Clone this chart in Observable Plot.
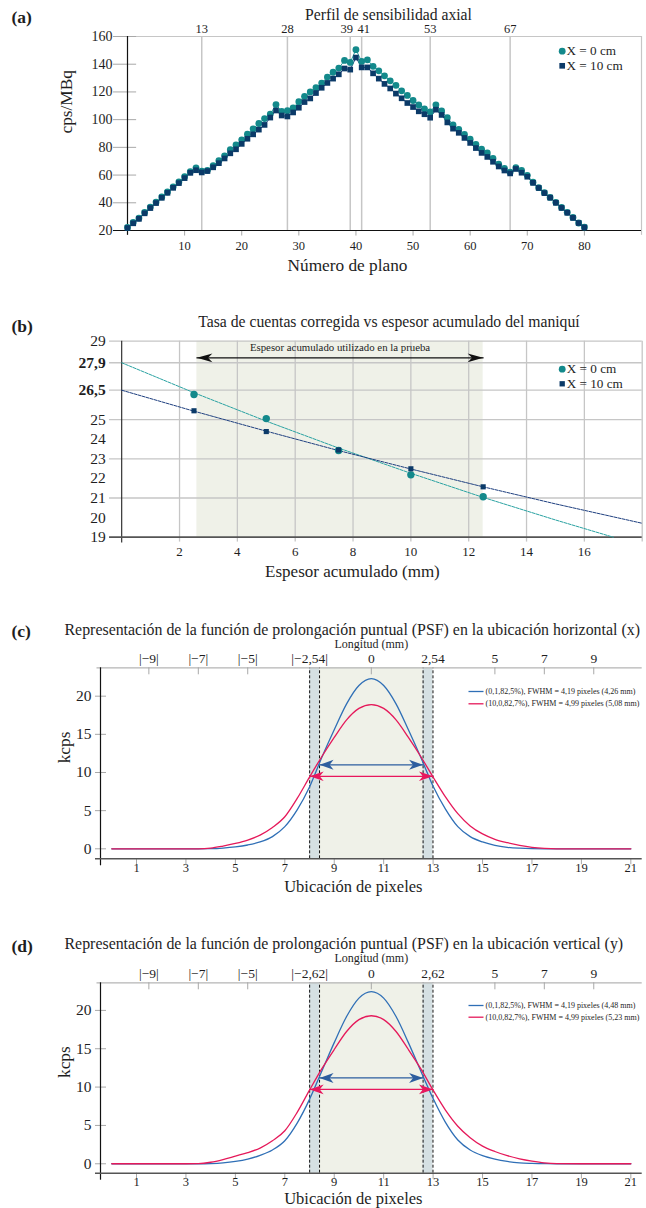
<!DOCTYPE html>
<html><head><meta charset="utf-8">
<script src="https://cdn.jsdelivr.net/npm/d3@7"></script>
<script src="https://cdn.jsdelivr.net/npm/@observablehq/plot@0.6"></script>
<style>
body{margin:0;background:#fff;}
#wrap{width:646px;}
#wrap svg{display:block;}
</style></head><body><div id="wrap"></div>
<script>
// ---------------- DATA ----------------
// (a) axial sensitivity profile
const planes = d3.range(0, 81);
const sensX0 = [22.2,25.8,29.0,33.0,36.9,40.5,44.2,47.8,51.5,55.0,58.8,62.4,65.2,62.8,63.4,66.8,70.4,73.9,78.3,81.8,
  85.4,89.5,93.4,97.2,100.8,104.0,110.9,106.0,106.5,108.5,113.0,116.8,120.0,123.1,126.4,130.7,134.2,137.2,142.7,141.3,
  150.5,142.0,143.2,138.5,135.2,131.6,128.0,124.8,120.8,117.5,113.8,110.6,107.8,105.6,110.7,106.3,101.4,96.2,93.0,89.4,
  85.9,82.2,78.7,76.0,72.0,67.8,64.8,62.1,65.4,63.3,59.8,54.9,50.9,47.3,43.9,40.3,36.6,33.1,29.4,25.4,22.5];
const sensX10 = [21.8,25.2,28.4,32.4,36.2,39.8,43.6,47.2,50.8,54.2,57.8,61.6,63.5,61.9,62.9,65.6,68.6,72.0,75.7,78.6,
  82.5,86.2,89.4,92.8,96.2,101.5,106.6,103.0,102.3,105.2,108.6,112.7,115.3,119.2,123.0,126.5,129.6,132.7,136.9,136.1,
  144.8,137.7,137.7,133.4,129.6,125.8,122.5,118.8,115.4,112.0,109.1,106.0,103.9,101.4,107.2,103.4,98.0,93.5,90.5,86.8,
  83.2,79.5,76.0,73.1,69.6,66.2,63.3,61.2,64.4,61.7,58.8,54.4,50.7,47.0,43.7,40.0,36.3,32.8,29.1,25.4,22.2];
const topTicksA = [13, 28, 39, 41, 53, 67];
const xTicksA = [10, 20, 30, 40, 50, 60, 70, 80];
const yTicksA = [20, 40, 60, 80, 100, 120, 140, 160];
const legendLabels = ["X = 0 cm", "X = 10 cm"];

// (b) corrected count rate vs accumulated thickness
const thickness = [2.5, 5, 7.5, 10, 12.5];
const rateX0 = [26.28, 25.05, 23.42, 22.18, 21.06];
const rateX10 = [25.45, 24.39, 23.45, 22.49, 21.57];
const fitThick0 = [0, 2.5, 5, 7.5, 10, 12.5, 15, 17];
const fitRate0 = [27.9, 26.37, 24.92, 23.55, 22.26, 21.03, 19.88, 19.0];
const fitThick10 = [0, 2.5, 5, 7.5, 10, 12.5, 15, 18];
const fitRate10 = [26.5, 25.43, 24.41, 23.42, 22.48, 21.57, 20.7, 19.71];
const shadeB = [2.6, 12.5];
const arrowLevelB = 28.15;
const xTicksB = [2, 4, 6, 8, 10, 12, 14, 16];
const gridXB = [2, 4, 6, 8, 10, 12, 14, 16, 18];
const gridYB = [29, 27.9, 26.5, 25, 23, 21];
const yTicksB = [29, 25, 24, 23, 22, 21, 20, 19];
const yTicksBoldB = [27.9, 26.5];

// (c),(d) PSF
const pixPos = [0,1,2,3,3.5,4,4.5,5,5.5,6,6.5,7,7.5,8,8.5,9,9.5,10,10.5,11,11.5,12,12.5,13,13.5,14,14.5,15,15.5,16,16.5,17,17.5,18,19,20,21];
const psfBlueC = [0,0,0,0,0,0.02,0.1,0.25,0.5,0.9,1.6,2.9,5.1,8.1,12.0,15.6,19.0,21.4,22.3,21.4,19.0,15.6,12.0,8.2,5.2,2.9,1.6,0.9,0.45,0.2,0.08,0.02,0,0,0,0,0];
const psfRedC = [0,0,0,0,0,0.08,0.35,0.7,1.15,1.8,2.8,4.2,6.6,9.4,12.1,14.6,16.9,18.4,18.9,18.4,16.9,14.6,12.1,9.4,6.8,4.6,3.0,1.95,1.25,0.8,0.45,0.2,0.06,0,0,0,0];
const psfBlueD = [0,0,0,0,0,0.03,0.12,0.3,0.6,1.1,1.8,3.0,5.3,8.4,12.1,15.8,19.2,21.6,22.45,21.6,19.2,15.8,12.1,8.5,5.4,3.1,1.8,1.05,0.6,0.3,0.12,0.05,0.01,0,0,0,0];
const psfRedD = [0,0,0,0,0.02,0.2,0.55,1.0,1.45,2.05,3.0,4.3,6.7,9.6,12.4,14.9,17.25,18.8,19.3,18.8,17.25,14.9,12.4,9.6,7.0,4.9,3.4,2.3,1.6,1.05,0.65,0.35,0.12,0.02,0,0,0];
const psfCenter = 10.5;
const fwhmPx = [4.19, 4.99];               // blue, red
const halfMaxC = [11.0, 9.5];
const halfMaxD = [11.2, 9.7];
const xTicksPSF = [1, 3, 5, 7, 9, 11, 13, 15, 17, 19, 21];
const yTicksPSF = [0, 5, 10, 15, 20];
const topPosPSF = [1.5, 3.5, 5.5, 8.005, 10.5, 12.995, 15.5, 17.5, 19.5];
const topLabelsC = ["|−9|", "|−7|", "|−5|", "|−2,54|", "0", "2,54", "5", "7", "9"];
const topLabelsD = ["|−9|", "|−7|", "|−5|", "|−2,62|", "0", "2,62", "5", "7", "9"];
const legendC = ["(0,1,82,5%), FWHM = 4,19 pixeles (4,26 mm)", "(10,0,82,7%), FWHM = 4,99 pixeles (5,08 mm)"];
const legendD = ["(0,1,82,5%), FWHM = 4,19 pixeles (4,48 mm)", "(10,0,82,7%), FWHM = 4,99 pixeles (5,23 mm)"];

// ---------------- STYLE ----------------
const FONT = "Liberation Serif";
const TEAL = "#13898b", NAVY = "#0b3a68", TEAL_LINE = "#2aa2a2", NAVY_LINE = "#1f4080";
const GRID = "#c6c6c6", TICK = "#a8a8a8", SHADE = "#eff1e8", BAND = "#d5e0e3";
const BLUE = "#2f6fb6", RED = "#e5195a", BLUE_AR = "#2d5e9f", RED_AR = "#e8175d";
const fmt = d => String(d).replace(".", ",");
const headRight = (L, hw) => ({draw(c) { c.moveTo(0, 0); c.lineTo(-L, -hw); c.lineTo(-0.72 * L, 0); c.lineTo(-L, hw); c.closePath(); }});
const headLeft = (L, hw) => ({draw(c) { c.moveTo(0, 0); c.lineTo(L, -hw); c.lineTo(0.72 * L, 0); c.lineTo(L, hw); c.closePath(); }});
const legendLine = {draw(c) { c.moveTo(-7.5, 0); c.lineTo(7.5, 0); }};
const M = {lineAnchor: "middle"};
const LEG_FS = 13.2, LEG_GAP = 14.6;
const wrap = document.getElementById("wrap");

// ---------------- (a) ----------------
const dataA = planes.map((p, i) => ({plane: p, v0: sensX0[i], v10: sensX10[i]}));
const topA_plain = topTicksA.filter(d => d !== 39 && d !== 41);
const legA = 22; // legend centre offset from frame top
wrap.append(Plot.plot({
  width: 646, height: 290, marginTop: 36, marginBottom: 60, marginLeft: 127, marginRight: 5,
  style: {fontFamily: FONT, color: "#1e1e1e", background: "white"},
  x: {domain: [0, 90]}, y: {domain: [20, 160]},
  marks: [
    Plot.ruleX(topTicksA, {stroke: GRID, strokeWidth: 1.5}),
    Plot.ruleY([160], {x1: -2.45, x2: 90, stroke: GRID, strokeWidth: 1.2}),
    Plot.ruleX([90], {y1: 16.5, y2: 160, stroke: GRID, strokeWidth: 1.2}),
    Plot.ruleY(yTicksA, {x1: -2.45, x2: 1.6, stroke: TICK}),
    Plot.ruleX(xTicksA, {y1: 20, y2: 16, stroke: TICK}),
    Plot.ruleX([0], {y1: 16.5, y2: 160, stroke: "#111", strokeWidth: 1.2}),
    Plot.ruleY([20], {x1: -2.45, x2: 90, stroke: "#111", strokeWidth: 1.2}),
    Plot.line(dataA, {x: "plane", y: "v0", stroke: TEAL_LINE, strokeWidth: 1}),
    Plot.line(dataA, {x: "plane", y: "v10", stroke: NAVY_LINE, strokeWidth: 1}),
    Plot.dot(dataA, {x: "plane", y: "v0", r: 3.4, fill: TEAL}),
    Plot.dot(dataA, {x: "plane", y: "v10", r: 3.2, symbol: "square", fill: NAVY}),
    Plot.axisY({ticks: yTicksA, tickSize: 0, tickPadding: 15, fontSize: 14, label: null}),
    Plot.axisX({ticks: xTicksA, tickSize: 0, tickPadding: 11, fontSize: 12.5, label: null}),
    Plot.text(topA_plain, {x: d => d, text: d => String(d), frameAnchor: "top", dy: -8, fontSize: 12.5, ...M}),
    Plot.text([39], {x: d => d, text: d => String(d), frameAnchor: "top", dx: -3.5, dy: -8, fontSize: 12.5, ...M}),
    Plot.text([41], {x: d => d, text: d => String(d), frameAnchor: "top", dx: 2, dy: -8, fontSize: 12.5, ...M}),
    Plot.text(["Perfil de sensibilidad axial"], {frameAnchor: "top", dx: 4, dy: -22, fontSize: 15.7, ...M}),
    Plot.text(["(a)"], {frameAnchor: "top-left", dx: -116, dy: -19.5, textAnchor: "start", fontSize: 17.5, fontWeight: "bold", ...M}),
    Plot.text(["Número de plano"], {frameAnchor: "bottom", dx: -37, dy: 35, fontSize: 17.3, ...M}),
    Plot.text(["cps/MBq"], {frameAnchor: "left", dx: -61, rotate: -90, fontSize: 17.3}),
    Plot.dot([legendLabels[0]], {frameAnchor: "top-right", dx: -79.3, dy: legA - LEG_GAP / 2, r: 3.4, fill: TEAL}),
    Plot.dot([legendLabels[1]], {frameAnchor: "top-right", dx: -79.3, dy: legA + LEG_GAP / 2, r: 3.2, symbol: "square", fill: NAVY}),
    Plot.text([legendLabels[0]], {frameAnchor: "top-right", dx: -75, dy: legA - LEG_GAP / 2, textAnchor: "start", fontSize: LEG_FS, ...M}),
    Plot.text([legendLabels[1]], {frameAnchor: "top-right", dx: -75, dy: legA + LEG_GAP / 2, textAnchor: "start", fontSize: LEG_FS, ...M})
  ]
}));

// ---------------- (b) ----------------
const ptsB = thickness.map((t, i) => ({t, v0: rateX0[i], v10: rateX10[i]}));
const fit0 = fitThick0.map((t, i) => ({t, v: fitRate0[i]}));
const fit10 = fitThick10.map((t, i) => ({t, v: fitRate10[i]}));
const arrowB = shadeB.map(t => ({t, v: arrowLevelB}));
const legB = 35.3;
wrap.append(Plot.plot({
  width: 646, height: 310, marginTop: 50.7, marginBottom: 63.3, marginLeft: 121.2, marginRight: 4.3,
  style: {fontFamily: FONT, color: "#1e1e1e", background: "white"},
  x: {domain: [0, 18]}, y: {domain: [19, 29]},
  marks: [
    Plot.rect([shadeB], {x1: d => d[0], x2: d => d[1], y1: () => 19, y2: () => 29, fill: SHADE}),
    Plot.ruleX(gridXB, {y1: 18.75, y2: 29, stroke: GRID, strokeWidth: 1.3}),
    Plot.ruleY(gridYB, {x1: -0.42, x2: 18, stroke: GRID, strokeWidth: 1.3}),
    Plot.ruleX([0], {y1: 18.7, y2: 29, stroke: "#222", strokeWidth: 1.1}),
    Plot.ruleY([19], {x1: -0.42, x2: 18, stroke: "#555", strokeWidth: 1.8}),
    Plot.line(fit0, {x: "t", y: "v", stroke: TEAL_LINE, strokeWidth: 1, strokeDasharray: "3,1.2"}),
    Plot.line(fit10, {x: "t", y: "v", stroke: NAVY_LINE, strokeWidth: 1, strokeDasharray: "3,1.2"}),
    Plot.dot(ptsB, {x: "t", y: "v0", r: 3.7, fill: TEAL}),
    Plot.dot(ptsB, {x: "t", y: "v10", r: 2.9, symbol: "square", fill: NAVY}),
    Plot.line(arrowB, {x: "t", y: "v", stroke: "#111", strokeWidth: 1.3}),
    Plot.dot([arrowB[0]], {x: "t", y: "v", symbol: headLeft(15.5, 4.3), fill: "#111", stroke: "none"}),
    Plot.dot([arrowB[1]], {x: "t", y: "v", symbol: headRight(15.5, 4.3), fill: "#111", stroke: "none"}),
    Plot.text(["Espesor acumulado utilizado en la prueba"], {x: () => (shadeB[0] + shadeB[1]) / 2, y: () => 28.68, fontSize: 10.8}),
    Plot.axisY({ticks: yTicksB, tickSize: 0, tickPadding: 16, fontSize: 15.5, label: null, tickFormat: fmt}),
    Plot.axisY({ticks: yTicksBoldB, tickSize: 0, tickPadding: 16, fontSize: 15.5, fontWeight: "bold", label: null, tickFormat: fmt}),
    Plot.axisX({ticks: xTicksB, tickSize: 0, tickPadding: 10, fontSize: 13, label: null}),
    Plot.text(["Tasa de cuentas corregida vs espesor acumulado del maniquí"], {frameAnchor: "top", dx: 7, dy: -19, fontSize: 15.7, ...M}),
    Plot.text(["(b)"], {frameAnchor: "top-left", dx: -110.2, dy: -15.2, textAnchor: "start", fontSize: 17.5, fontWeight: "bold", ...M}),
    Plot.text(["Espesor acumulado (mm)"], {frameAnchor: "bottom", dx: -29.5, dy: 34.5, fontSize: 17, ...M}),
    Plot.dot([legendLabels[0]], {frameAnchor: "top-right", dx: -80, dy: legB - LEG_GAP / 2, r: 3.4, fill: TEAL}),
    Plot.dot([legendLabels[1]], {frameAnchor: "top-right", dx: -80, dy: legB + LEG_GAP / 2, r: 3.0, symbol: "square", fill: NAVY}),
    Plot.text([legendLabels[0]], {frameAnchor: "top-right", dx: -75.5, dy: legB - LEG_GAP / 2, textAnchor: "start", fontSize: LEG_FS, ...M}),
    Plot.text([legendLabels[1]], {frameAnchor: "top-right", dx: -75.5, dy: legB + LEG_GAP / 2, textAnchor: "start", fontSize: LEG_FS, ...M})
  ]
}));

// ---------------- (c),(d) ----------------
function psfPanel(o) {
  const xMin = -0.457, xMax = 21.46;
  const [yMin, yMax] = o.yDomain;
  const ppu = (o.height - o.marginTop - o.marginBottom) / (yMax - yMin);
  const edgesBlue = [psfCenter - fwhmPx[0] / 2, psfCenter + fwhmPx[0] / 2];
  const edgesRed = [psfCenter - fwhmPx[1] / 2, psfCenter + fwhmPx[1] / 2];
  const curve = pixPos.map((p, i) => ({p, b: o.blue[i], r: o.red[i]}));
  const arBlue = edgesBlue.map(p => ({p, v: o.halfMax[0]}));
  const arRed = edgesRed.map(p => ({p, v: o.halfMax[1]}));
  const labelMap = new Map(topPosPSF.map((p, i) => [p, o.topLabels[i]]));
  const topMarks = topPosPSF.filter(p => p !== topPosPSF[3] && p !== topPosPSF[5]);
  return Plot.plot({
    width: 646, height: o.height, marginTop: o.marginTop, marginBottom: o.marginBottom, marginLeft: 100, marginRight: 4.3,
    style: {fontFamily: FONT, color: "#1e1e1e", background: "white"},
    x: {domain: [xMin, xMax]}, y: {domain: [yMin, yMax]},
    marks: [
      Plot.rect([edgesBlue], {x1: d => d[0], x2: d => d[1], y1: () => yMin, y2: () => yMax, fill: SHADE}),
      Plot.rect([[edgesRed[0], edgesBlue[0]], [edgesBlue[1], edgesRed[1]]], {x1: d => d[0], x2: d => d[1], y1: () => yMin, y2: () => yMax, fill: BAND}),
      Plot.ruleX([...edgesRed, ...edgesBlue], {y1: yMin, y2: yMax, stroke: "#111", strokeWidth: 1, strokeDasharray: "3,2"}),
      Plot.ruleY([yMax], {x1: xMin - 3.5 / 24.7, x2: xMax, stroke: "#b5b5b5", strokeWidth: 1.2}),
      Plot.ruleX(topMarks, {y1: yMax, y2: yMax - 7 / ppu, stroke: TICK}),
      Plot.ruleY(yTicksPSF, {x1: xMin - 5 / 24.7, x2: xMin + 6 / 24.7, stroke: TICK}),
      Plot.ruleX(xTicksPSF, {y1: yMin, y2: yMin - 6 / ppu, stroke: TICK}),
      Plot.ruleX([xMin], {y1: yMin - 7 / ppu, y2: yMax, stroke: "#111", strokeWidth: 1.2}),
      Plot.ruleY([yMin], {x1: xMin - 5 / 24.7, x2: xMax, stroke: "#555", strokeWidth: 1.6}),
      Plot.line(curve, {x: "p", y: "b", stroke: BLUE, strokeWidth: 1.3, curve: "monotone-x"}),
      Plot.line(curve, {x: "p", y: "r", stroke: RED, strokeWidth: 1.3, curve: "monotone-x"}),
      Plot.line(arBlue, {x: "p", y: "v", stroke: BLUE_AR, strokeWidth: 1.3}),
      Plot.line(arRed, {x: "p", y: "v", stroke: RED_AR, strokeWidth: 1.3}),
      Plot.dot([arBlue[0]], {x: "p", y: "v", symbol: headLeft(14, 5), fill: BLUE_AR, stroke: "none"}),
      Plot.dot([arBlue[1]], {x: "p", y: "v", symbol: headRight(14, 5), fill: BLUE_AR, stroke: "none"}),
      Plot.dot([arRed[0]], {x: "p", y: "v", symbol: headLeft(14, 4.8), fill: RED_AR, stroke: "none"}),
      Plot.dot([arRed[1]], {x: "p", y: "v", symbol: headRight(14, 4.8), fill: RED_AR, stroke: "none"}),
      Plot.axisY({ticks: yTicksPSF, tickSize: 0, tickPadding: 9, fontSize: 15.5, label: null}),
      Plot.axisX({ticks: xTicksPSF, tickSize: 0, tickPadding: 4, fontSize: 12.5, label: null}),
      Plot.axisX({anchor: "top", ticks: topPosPSF, tickSize: 0, tickPadding: 5, fontSize: 13.5, label: null, tickFormat: d => labelMap.get(d)}),
      Plot.text(["Longitud (mm)"], {x: () => psfCenter, frameAnchor: "top", dy: o.longDy, fontSize: 12, ...M}),
      Plot.text([o.title], {frameAnchor: "top-left", dx: -36, dy: o.titleDy, textAnchor: "start", fontSize: 15.9, ...M}),
      Plot.text([o.tag], {frameAnchor: "top-left", dx: -89, dy: o.tagDy, textAnchor: "start", fontSize: 17.5, fontWeight: "bold", ...M}),
      Plot.text(["kcps"], {frameAnchor: "left", dx: -36.5, rotate: -90, fontSize: 17.3}),
      Plot.text(["Ubicación de pixeles"], {frameAnchor: "bottom", dx: -18, dy: o.xlabDy, fontSize: 16.5, ...M}),
      Plot.dot([o.legend[0]], {frameAnchor: "top-right", dx: -166.2, dy: o.legDy[0], symbol: legendLine, stroke: BLUE, strokeWidth: 1.3, fill: "none"}),
      Plot.dot([o.legend[1]], {frameAnchor: "top-right", dx: -166.2, dy: o.legDy[1], symbol: legendLine, stroke: RED, strokeWidth: 1.3, fill: "none"}),
      Plot.text([o.legend[0]], {frameAnchor: "top-right", dx: -156.7, dy: o.legDy[0], textAnchor: "start", fontSize: 8, ...M}),
      Plot.text([o.legend[1]], {frameAnchor: "top-right", dx: -156.7, dy: o.legDy[1], textAnchor: "start", fontSize: 8, ...M})
    ]
  });
}

wrap.append(psfPanel({
  tag: "(c)", title: "Representación de la función de prolongación puntual (PSF) en la ubicación horizontal (x)",
  height: 315, marginTop: 67.3, marginBottom: 56.7, yDomain: [-1.31, 23.72],
  blue: psfBlueC, red: psfRedC, halfMax: halfMaxC, topLabels: topLabelsC, legend: legendC,
  titleDy: -38.3, tagDy: -36.8, longDy: -24, xlabDy: 28, legDy: [23.7, 36]
}));
wrap.append(psfPanel({
  tag: "(d)", title: "Representación de la función de prolongación puntual (PSF) en la ubicación vertical (y)",
  height: 293, marginTop: 67.3, marginBottom: 35.3, yDomain: [-1.23, 23.6],
  blue: psfBlueD, red: psfRedD, halfMax: halfMaxD, topLabels: topLabelsD, legend: legendD,
  titleDy: -39.3, tagDy: -36.8, longDy: -24.3, xlabDy: 26, legDy: [22.7, 34.4]
}));
</script></body></html>
